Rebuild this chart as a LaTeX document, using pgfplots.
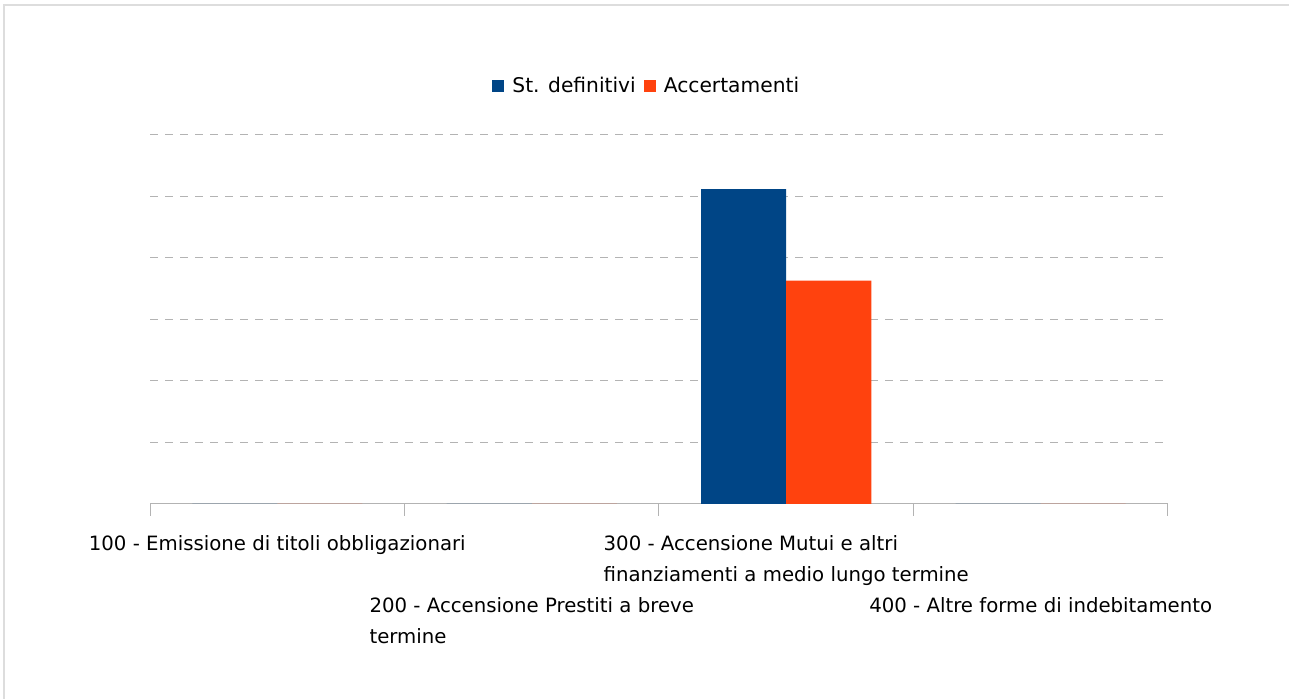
\documentclass[border=0pt]{standalone}
\usepackage{pgfplots}
\pgfplotsset{compat=1.18}
\usepackage{fontspec}
\setmainfont{DejaVu Sans}
\definecolor{sblue}{HTML}{004586}
\definecolor{sorange}{HTML}{FF420E}
\definecolor{gridc}{HTML}{B3B3B3}
\definecolor{framec}{HTML}{DDDDDD}
\begin{document}
\begin{tikzpicture}[x=1bp,y=1bp]
\path[use as bounding box] (0,0) rectangle (1289,699);
\draw[framec, line width=2bp] (4,0) -- (4,694) -- (1289,694);
\begin{axis}[
  at={(150bp,195bp)}, anchor=south west,
  scale only axis, width=1018bp, height=369bp,
  ybar=0pt, bar width=85bp,
  xmin=0.5, xmax=4.5, ymin=0, ymax=6,
  axis lines*=left,
  x axis line style={gridc, line width=1bp, -},
  y axis line style={draw=none},
  ytick={1,2,3,4,5,6}, yticklabels={}, major y tick style={draw=none},
  ymajorgrids, y grid style={gridc, line width=1bp, dash pattern=on 8bp off 7bp},
  xtick={0.5,1.5,2.5,3.5,4.5}, xticklabels={},
  major x tick style={gridc, line width=1bp}, major tick length=12bp, tick align=outside,
  extra x ticks={1,2,3,4},
  extra x tick labels={
    {100 - Emissione di titoli obbligazionari},
    {\vphantom{Ed}\\\mbox{}\\200 - Accensione Prestiti a breve\\termine},
    {300 - Accensione Mutui e altri\\finanziamenti a medio lungo termine},
    {\vphantom{Ed}\\\mbox{}\\400 - Altre forme di indebitamento}},
  extra x tick style={major tick length=0pt, major x tick style={draw=none}, xmajorgrids=false,
    xticklabel style={anchor=north, align=left, font=\fontsize{19.8}{31}\selectfont, yshift=-28bp}},
  legend style={draw=none, at={(0.488,1.133)}, anchor=center, legend columns=2,
    font=\fontsize{20.3}{22}\selectfont,
    /tikz/every odd column/.append style={column sep=6bp},
    /tikz/every even column/.append style={column sep=6bp}},
  legend image code/.code={\fill[#1] (0bp,-6bp) rectangle (12bp,6bp);},
]
\addplot[fill=sblue, draw=none] coordinates {(1,0) (2,0) (3,5.12) (4,0)};
\addplot[fill=sorange, draw=none] coordinates {(1,0) (2,0) (3,3.63) (4,0)};
\legend{St. definitivi, Accertamenti}
\end{axis}
\end{tikzpicture}
\end{document}
